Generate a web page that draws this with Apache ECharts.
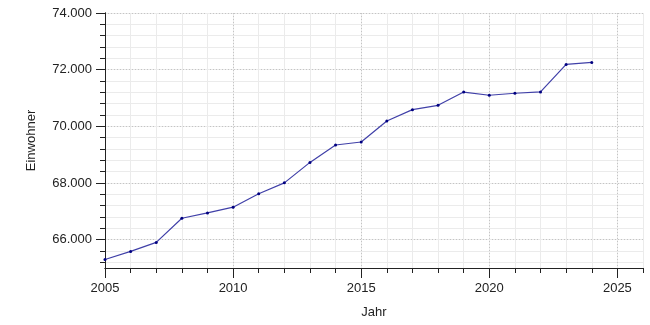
<!DOCTYPE html>
<html>
<head>
<meta charset="utf-8">
<script src="https://cdn.jsdelivr.net/npm/echarts@6/dist/echarts.min.js"></script>
<style>html,body{margin:0;padding:0;background:#fff}#c{width:650px;height:325px}</style>
</head>
<body>
<div id="c"></div>
<script>
const years = [2005,2006,2007,2008,2009,2010,2011,2012,2013,2014,2015,2016,2017,2018,2019,2020,2021,2022,2023,2024];
const population = [65300,65585,65904,66756,66944,67147,67620,68005,68727,69341,69447,70190,70589,70741,71210,71098,71168,71214,72186,72256];
const xMajorTicks = [2005,2010,2015,2020,2025];
const yMajorTicks = [66000,68000,70000,72000,74000];
const yMinorTicks = [];
for (let v = 65200; v <= 74000; v += 400) yMinorTicks.push(v);
const xMinorTicks = [];
for (let v = 2005; v <= 2026; v += 1) xMinorTicks.push(v);

const font = 'Liberation Sans, Arial, sans-serif';
const fmt = v => String(v).replace(/\B(?=(\d{3})+(?!\d))/g, '.');
const axisColor = '#222';

const chart = echarts.init(document.getElementById('c'), null, {renderer: 'canvas'});
chart.setOption({
  animation: false,
  backgroundColor: '#fff',
  grid: {left: 105, right: 7, top: 13, bottom: 57},
  xAxis: [
    {
      type: 'value', min: 2005, max: 2026, position: 'bottom',
      axisLine: {show: true, lineStyle: {color: axisColor, width: 1}},
      axisTick: {show: true, length: 5, customValues: xMinorTicks, lineStyle: {color: axisColor}},
      axisLabel: {show: false},
      splitLine: {show: true, lineStyle: {color: '#ebebeb', width: 1, type: 'solid'}}
    },
    {
      type: 'value', min: 2005, max: 2026, position: 'bottom',
      name: 'Jahr', nameLocation: 'middle', nameGap: 38,
      nameTextStyle: {fontFamily: font, fontSize: 13, color: '#222'},
      axisLine: {show: true, lineStyle: {color: axisColor, width: 1}},
      axisTick: {show: true, length: 10, customValues: xMajorTicks, lineStyle: {color: axisColor}},
      axisLabel: {show: true, customValues: xMajorTicks, margin: 14, fontFamily: font, fontSize: 13, color: '#222', formatter: v => String(v)},
      splitLine: {show: true, lineStyle: {color: '#c4c4c4', width: 1, type: [1, 2]}}
    }
  ],
  yAxis: [
    {
      type: 'value', min: 65000, max: 74000, position: 'left',
      axisLine: {show: true, lineStyle: {color: axisColor, width: 1}},
      axisTick: {show: true, length: 5, customValues: yMinorTicks, lineStyle: {color: axisColor}},
      axisLabel: {show: false},
      splitLine: {show: true, lineStyle: {color: '#ebebeb', width: 1, type: 'solid'}}
    },
    {
      type: 'value', min: 65000, max: 74000, position: 'left',
      name: 'Einwohner', nameLocation: 'middle', nameGap: 67, nameRotate: 90,
      nameTextStyle: {fontFamily: font, fontSize: 13, color: '#222'},
      axisLine: {show: true, lineStyle: {color: axisColor, width: 1}},
      axisTick: {show: true, length: 9, customValues: yMajorTicks, lineStyle: {color: axisColor}},
      axisLabel: {show: true, customValues: yMajorTicks, margin: 13, fontFamily: font, fontSize: 13, color: '#222', formatter: fmt},
      splitLine: {show: true, lineStyle: {color: '#c4c4c4', width: 1, type: [1, 2]}}
    }
  ],
  series: [{
    type: 'line',
    xAxisIndex: 1, yAxisIndex: 1,
    data: years.map((y, i) => [y, population[i]]),
    lineStyle: {color: '#4040a8', width: 1.2},
    itemStyle: {color: '#000080'},
    symbol: 'circle', symbolSize: 3, showSymbol: true,
    z: 10
  }]
});
</script>
</body>
</html>
